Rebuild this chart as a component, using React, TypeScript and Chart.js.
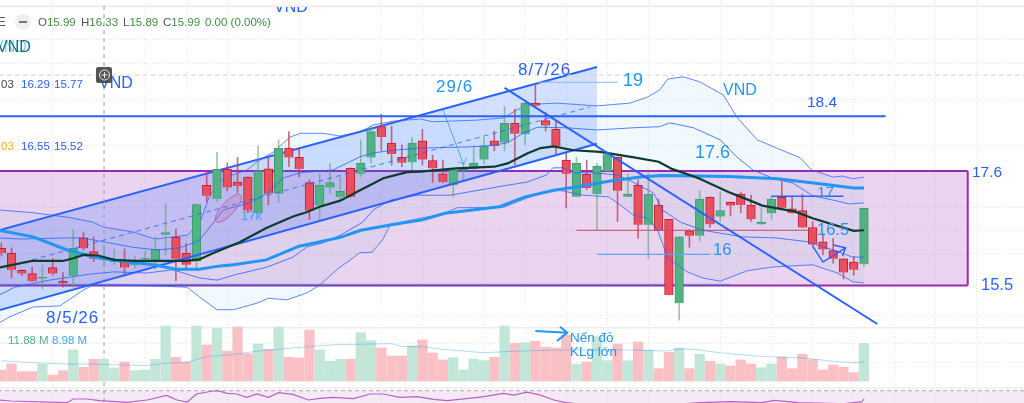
import React, { useEffect, useRef } from "react";
import { Chart, registerables } from "chart.js";

Chart.register(...registerables);

// ---- Candles (index = bar number) ----
const opens = [16.17,16.08,15.77,15.71,15.62,15.82,15.57,15.67,16.36,16.11,15.98,15.92,15.92,15.86,15.97,15.94,16.42,16.37,16.08,15.93,17.32,17.07,17.61,17.38,17.47,16.81,17.62,17.17,18.00,17.83,17.37,16.95,17.28,17.11,17.63,17.53,17.83,18.39,18.09,17.83,17.74,18.13,17.77,17.53,17.32,17.59,17.62,17.79,18.13,18.10,18.45,18.25,18.82,18.50,18.34,17.78,17.11,17.52,17.16,17.58,17.83,17.11,17.32,16.60,16.96,16.70,15.17,16.49,16.40,17.10,16.75,17.01,17.16,16.96,16.61,16.81,17.10,16.89,16.86,16.55,16.29,16.13,15.98,15.92,15.88];
const highs = [16.27,16.18,15.78,15.83,15.87,15.98,15.73,16.52,16.46,16.38,16.23,16.15,16.16,16.03,16.12,16.38,16.98,16.52,16.26,16.98,17.55,17.92,17.73,17.83,17.48,18.04,17.83,18.15,18.30,18.01,17.42,17.53,17.72,17.49,17.64,18.15,18.40,18.62,18.40,18.06,18.19,18.34,17.87,17.78,17.61,17.73,18.04,18.19,18.31,18.76,18.71,18.83,19.17,18.65,18.48,17.93,17.83,17.78,17.72,17.93,17.84,17.53,17.42,17.54,17.07,16.70,16.38,16.51,17.22,17.11,17.20,17.02,17.20,17.14,16.91,17.13,17.39,17.10,17.16,16.66,16.44,16.35,15.98,16.02,16.90];
const lows = [16.03,15.63,15.67,15.56,15.43,15.68,15.46,15.46,16.14,15.93,15.83,15.87,15.68,15.81,15.87,15.78,16.05,15.58,15.79,15.81,17.02,17.02,17.22,17.18,16.82,16.80,16.96,17.00,17.66,17.48,16.70,16.69,17.17,17.07,17.10,17.48,17.73,17.95,17.69,17.66,17.60,17.69,17.37,17.37,17.11,17.39,17.60,17.72,17.95,17.95,17.69,18.06,18.75,18.31,17.89,16.91,17.11,17.24,16.51,17.57,16.66,17.11,16.35,15.99,16.49,15.32,14.86,16.19,16.30,16.55,16.66,16.76,16.82,16.66,16.60,16.70,16.89,16.81,16.55,16.20,16.05,15.90,15.61,15.68,15.84];
const closes = [16.08,15.78,15.71,15.57,15.64,15.71,15.53,16.17,16.17,15.98,16.00,15.94,15.82,15.91,15.99,16.15,16.46,15.98,15.87,16.97,17.13,17.61,17.28,17.31,16.86,17.58,17.17,18.00,17.83,17.62,16.86,17.32,17.37,17.21,17.11,17.72,18.30,18.20,17.89,17.73,18.09,17.79,17.63,17.38,17.60,17.61,17.72,18.04,18.04,18.45,18.26,18.82,18.77,18.41,18.04,17.53,17.72,17.27,17.67,17.88,17.22,17.16,16.60,17.16,16.49,15.32,16.38,16.40,17.07,16.61,16.86,16.95,16.96,16.70,16.65,17.07,16.91,16.81,16.55,16.24,16.15,15.98,15.73,15.78,16.90];
const volumes = [7.75,8.68,7.49,7.49,8.62,6.97,7.64,10.85,8.16,9.40,9.40,8.06,8.99,7.64,7.75,9.40,14.57,9.71,8.99,14.57,11.62,14.21,10.69,14.41,10.28,11.78,10.95,14.41,9.71,9.61,13.95,10.85,9.09,9.40,9.40,13.53,12.29,11.16,9.92,9.92,11.47,12.40,10.38,9.30,9.66,7.75,9.45,9.19,9.71,14.57,11.88,11.98,12.19,11.31,11.16,13.17,8.62,8.99,12.91,9.19,11.78,9.19,12.09,10.85,7.95,10.48,11.16,7.95,10.17,9.09,8.68,8.37,9.30,8.68,8.11,8.68,9.76,7.95,10.17,9.35,7.75,8.52,8.16,7.33,11.88];
const volumeFloor = 6.04;

type P = [number, number];
// ---- Indicators as [bar, value] ----
const volumeMA: P[] = [[0,9.19],[3,8.88],[6.5,8.68],[10,8.62],[14,8.42],[16,8.78],[18,8.93],[20,9.81],[23,10.23],[25,10.69],[28,11.10],[30,11.36],[32.5,11.67],[36,11.78],[38,11.83],[39,11.41],[41,11.36],[43,10.95],[47,10.43],[50.5,10.69],[55,10.85],[61,10.85],[64.7,10.69],[66,11.0],[67.7,10.9],[70,10.43],[72.6,10.02],[75.3,9.76],[78.2,9.6],[81,9.09],[83,8.88],[84,8.98]];
const basis: P[] = [[-0.2,15.82],[3,15.94],[6,15.94],[7,15.99],[8,16.05],[9.4,16.04],[11,15.96],[13,15.94],[15,15.94],[18,15.94],[19.3,15.97],[20.6,16.08],[23.2,16.28],[25.8,16.54],[28.4,16.75],[29.7,16.83],[31,16.93],[33,17.04],[34.6,17.20],[37.2,17.45],[39.5,17.56],[40.8,17.57],[44.3,17.63],[48,17.66],[49.3,17.72],[51.2,17.90],[52.5,18.00],[53.8,18.03],[55.7,17.96],[58.3,17.93],[61.6,17.83],[64,17.75],[65.3,17.62],[67.9,17.45],[70.8,17.20],[72.8,17.05],[74.1,16.95],[77.3,16.84],[79,16.72],[83,16.49],[84,16.50]];
const slowMA: P[] = [[-0.2,16.50],[3.1,16.38],[6.4,16.14],[9.6,15.99],[12,15.93],[14.8,15.87],[17,15.79],[19.3,15.79],[21.3,15.85],[22.6,15.87],[25.8,15.96],[29,16.21],[33,16.37],[35,16.50],[38,16.60],[41,16.69],[43.2,16.81],[48.5,16.93],[51,17.11],[53.8,17.23],[55.7,17.28],[59,17.39],[62.2,17.47],[64.3,17.50],[67.5,17.49],[70.8,17.48],[75.6,17.44],[80.5,17.33],[83,17.27],[84,17.27]];
const outerUpper: P[] = [[-0.2,16.87],[3.1,16.82],[6.4,16.74],[8.9,16.65],[9.9,16.56],[12.8,16.47],[15,16.34],[18.1,16.41],[19.3,16.63],[20.3,17.14],[21.6,17.45],[23.9,17.60],[24.9,17.75],[26.5,17.93],[28.1,18.20],[29.1,18.27],[31.3,18.27],[33,18.22],[34.9,18.29],[36.2,18.42],[38.1,18.49],[40.8,18.53],[42,18.48],[46.3,18.51],[48.9,18.55],[50.2,18.70],[51.8,18.80],[54.1,18.82],[58,18.77],[61.2,18.82],[62.9,18.93],[64.1,19.06],[64.9,19.26],[66.4,19.30],[68,19.21],[70.3,18.97],[71.6,18.57],[73.6,18.15],[75.5,18.00],[77.8,17.82],[78.9,17.60],[81,17.47],[81.9,17.49],[82.9,17.44],[84,17.47]];
const innerUpper: P[] = [[-0.2,16.36],[1.8,16.34],[6.4,16.36],[7.9,16.36],[9.9,16.29],[12.8,16.19],[15.2,16.14],[17.4,16.18],[18.7,16.27],[19.3,16.32],[20.6,16.63],[21.6,16.87],[24.2,17.00],[25.9,17.18],[27.4,17.45],[29.1,17.55],[32.3,17.60],[34.9,17.84],[36.2,17.91],[38.1,17.96],[40.8,18.00],[45.3,18.02],[47.3,18.04],[49.2,18.09],[50.8,18.27],[52.2,18.38],[55.1,18.37],[58,18.33],[61.5,18.37],[64.1,18.39],[65.1,18.46],[67.4,18.37],[70,18.15],[71.6,17.84],[73.2,17.60],[75.1,17.45],[77.1,17.36],[79,17.13],[81,17.05],[82.6,16.98],[84,17.00]];
const innerLower: P[] = [[-0.2,15.32],[1.3,15.46],[4.7,15.59],[8.6,15.70],[10.9,15.74],[14.2,15.72],[16.7,15.78],[19.3,15.63],[21,15.59],[22.6,15.68],[25.9,15.83],[28.4,16.01],[29.8,16.20],[31.3,16.27],[33,16.41],[35.2,16.65],[36.2,16.87],[37.9,17.05],[40.5,17.14],[43.7,17.14],[48.9,17.31],[51.2,17.38],[53.1,17.51],[53.7,17.64],[54.7,17.64],[55.7,17.55],[57.6,17.55],[60,17.51],[61.5,17.38],[63.5,17.18],[64.4,16.87],[66.1,16.65],[68.3,16.50],[72.2,16.38],[75.5,16.36],[78.5,16.29],[81,16.14],[82.9,16.01],[84,16.01]];
const outerLower: P[] = [[-0.2,14.81],[0.8,14.92],[3.1,15.10],[5.7,15.12],[8,15.41],[8.9,15.50],[11.6,15.50],[15.5,15.48],[18.1,15.46],[19.3,15.28],[21,15.05],[22.6,15.05],[24.9,15.17],[26,15.26],[27.8,15.23],[29.8,15.36],[31,15.50],[32.3,15.72],[33,15.83],[34,15.96],[34.9,16.09],[36.1,16.10],[37.1,16.32],[37.9,16.61],[43,16.80],[44.4,16.91],[48.9,16.92],[51.2,17.09],[53.1,17.20],[54.1,17.24],[56.6,17.14],[59.1,17.11],[60.3,16.96],[61.5,16.78],[62.9,16.72],[63.9,16.50],[64.9,15.99],[66.8,15.74],[68.3,15.63],[70,15.57],[72.6,15.76],[75.1,15.83],[79,15.87],[81.4,15.72],[82.9,15.56],[84,15.54]];
const rsi: P[] = [[-0.2,51.4],[0.9,49.4],[6.4,46],[7,53.4],[8.3,53.4],[9.6,50],[12.2,46.7],[14.2,51.4],[16.1,60.7],[17.1,51.4],[18.1,47.4],[19,63.4],[20.6,69.4],[21.1,70],[22,64.7],[22.9,63.4],[23.9,56.7],[24.9,63.4],[26,56.7],[27,66],[28.4,62.7],[29.9,51.4],[31,54.7],[32.3,56.7],[34.3,54],[35.9,63.4],[37.2,63.4],[38.8,56.7],[40.5,58],[42.1,52.7],[43.4,50],[45.3,54],[47,58],[48.9,64.6],[49.9,61.2],[51.2,67.2],[52.5,61.2],[53.8,51.4],[55,46],[58,40],[62,38],[68,46],[71,48],[74,46],[75.3,50.8],[77.6,46],[82,44],[83.8,48],[84,53.4]];

// ---- Drawings on the price pane ----
const channelUpper: P[] = [[-1,16.46],[58,19.48]];
const channelLower: P[] = [[-1,15.00],[58,18.08]];
const channelMiddle: P[] = [[3,15.96],[57.3,18.75]];
const downTrend: P[] = [[49,19.10],[85.3,14.79]];
const resistance184: P[] = [[-1,18.58],[86.1,18.58]];
const zoneTopPrice = 17.58;
const zoneBottomPrice = 15.49;
const zoneEndBar = 94.1;
const level165: P[] = [[56,16.50],[78.7,16.50]];
const level16: P[] = [[58,16.06],[69,16.06]];
const level19: P[] = [[52.2,19.20],[60,19.20]];
const level17: P[] = [[75,17.12],[82,17.12]];
const zoneBottomGlow: P[] = [[-1,15.51],[71,15.51]];
const arrow296: P[] = [[43,18.70],[45,17.71]];
const arrow296Head: P[] = [[44.5,17.75],[45,17.71],[45.3,17.82]];
const arrowVol: P[] = [[52,14.66],[55.1,14.63]];
const arrowVolHead: P[] = [[54.4,14.74],[55.1,14.63],[54.1,14.48]];
const zigzag: P[] = [[79,16.21],[80,15.92],[82.2,16.18]];
const zigzagHead: P[] = [[81,16.23],[82.2,16.18],[81.9,16.03]];
const crosshairBar = 10;
const crosshairPrice = 19.33;

const priceGrid = [19.99, 19.55, 18.88, 18.04, 16.92, 16.49, 16.07, 14.95, 14.44, 14.08];
const barGrid = [5, 14, 18, 22, 29, 37, 41, 47, 51, 55, 59, 63, 70, 75, 79, 83, 87, 91, 95];

const legendLabels = ["O", "H", "L", "C"];
const legendValues = ["15.99", "16.33", "15.89", "15.99"];
const legendChange = "0.00 (0.00%)";
const BLUE = "#2962ff";
const SKY = "#2196f3";

const pts = (a: P[]) => a.map(([x, y]) => ({ x, y }));

const notes: any[] = [
  ["E", -3, 26, "13px", "#555"],
  ["VND", -7, 52, "16px", "#8fd0e0"],
  ["VND", -3, 52, "16px", "#12727c"],
  ["16.03", -15, 88, "11.5px", "#444"],
  ["16.29", 21, 88, "11.5px", BLUE],
  ["15.77", 54, 88, "11.5px", BLUE],
  ["VND", 99, 88, "16px", BLUE],
  ["16.03", -15, 150, "11.5px", "#f9a825"],
  ["16.55", 21, 150, "11.5px", BLUE],
  ["15.52", 54, 150, "11.5px", BLUE],
  ["29/6", 436, 92, "17px", SKY, 1],
  ["8/7/26", 518, 75, "17px", BLUE, 1],
  ["19", 623, 86, "18px", SKY],
  ["VND", 723, 95, "16px", SKY],
  ["18.4", 807, 107, "15.5px", BLUE],
  ["17.6", 695, 158, "18px", SKY],
  ["17.6", 972, 177, "15.5px", BLUE],
  ["17", 817, 197, "15.5px", SKY],
  ["16.5", 817, 235, "16.5px", SKY],
  ["16", 713, 255, "16.5px", SKY],
  ["15.5", 981, 290, "16.5px", BLUE],
  ["8/5/26", 46, 323, "17px", BLUE, 1],
  ["17k", 241, 220, "13px", "rgba(33,150,243,.75)"],
  ["Nến đỏ", 570, 342, "13.5px", SKY],
  ["KLg lớn", 570, 356, "13.5px", SKY],
  ["11.88 M", 8, 344, "11.5px", "#55b08a"],
  ["8.98 M", 52, 344, "11.5px", "#42a5f5"],
];

const annotationPlugin = {
  id: "annotations",
  afterDatasetsDraw(chart: any) {
    const ctx = chart.ctx;
    const sx = chart.scales.x;
    const sy = chart.scales.y;
    ctx.save();
    // ellipse around bars 21-23
    ctx.beginPath();
    ctx.ellipse(sx.getPixelForValue(22.1), sy.getPixelForValue(16.9), 18, 6.5, -0.83, 0, Math.PI * 2);
    ctx.fillStyle = "rgba(190,80,170,.22)";
    ctx.strokeStyle = "#c25fa6";
    ctx.lineWidth = 1;
    ctx.fill();
    ctx.stroke();

    ctx.textBaseline = "alphabetic";
    ctx.textAlign = "left";
    const F = '"Liberation Sans", Arial, sans-serif';
    // clipped text at the top
    ctx.save();
    ctx.beginPath();
    ctx.rect(0, 7, 1024, 30);
    ctx.clip();
    ctx.font = "16px " + F;
    ctx.fillStyle = BLUE;
    ctx.fillText("VND", 274, 12);
    ctx.restore();

    for (const n of notes) {
      ctx.font = n[3] + " " + F;
      ctx.fillStyle = n[4];
      ctx.letterSpacing = (n[5] || 0) + "px";
      ctx.fillText(n[0], n[1], n[2]);
    }
    ctx.letterSpacing = "0px";

    // OHLC legend
    ctx.font = "11.5px " + F;
    const starts = [38, 81, 123, 163];
    legendLabels.forEach((l, i) => {
      ctx.fillStyle = "#555";
      ctx.fillText(l, starts[i], 26);
      const w = ctx.measureText(l).width;
      ctx.fillStyle = "#3f8f3f";
      ctx.fillText(legendValues[i], starts[i] + w, 26);
    });
    ctx.fillStyle = "#3f8f3f";
    ctx.fillText(legendChange, 205, 26);

    // collapse button
    ctx.beginPath();
    ctx.arc(23, 22, 8, 0, Math.PI * 2);
    ctx.fillStyle = "#efefef";
    ctx.fill();
    ctx.fillStyle = "#777";
    ctx.fillRect(19, 21, 8, 2);

    // cursor zoom icon
    ctx.beginPath();
    ctx.roundRect(96, 67, 16, 16, 2);
    ctx.fillStyle = "rgba(70,70,70,.92)";
    ctx.fill();
    ctx.beginPath();
    ctx.arc(104.5, 75, 5, 0, Math.PI * 2);
    ctx.moveTo(104.5, 72);
    ctx.lineTo(104.5, 78);
    ctx.moveTo(101.5, 75);
    ctx.lineTo(107.5, 75);
    ctx.strokeStyle = "#e8e8e8";
    ctx.lineWidth = 1;
    ctx.stroke();
    ctx.restore();
  },
};

export default function App() {
  const ref = useRef<HTMLCanvasElement>(null);
  useEffect(() => {
    const ds: any[] = [];
    const add = (d: any) => {
      ds.push({
        type: "line",
        pointRadius: 0,
        tension: 0,
        fill: false,
        borderWidth: 1,
        xAxisID: "x",
        yAxisID: "y",
        ...d,
      });
      return ds.length - 1;
    };
    const x0 = -1;
    const x1 = 101;
    // purple zone
    const zoneBottom = add({ data: pts([[x0, zoneBottomPrice], [zoneEndBar, zoneBottomPrice]]), borderColor: "#9c27b0", borderWidth: 2, order: 60 });
    add({
      data: pts([[x0, zoneTopPrice], [zoneEndBar, zoneTopPrice]]),
      borderColor: "#9c27b0",
      borderWidth: 2,
      order: 100,
      fill: { target: zoneBottom, above: "rgba(156,39,176,.2)", below: "rgba(156,39,176,.2)" },
    });
    add({ data: pts([[zoneEndBar, zoneTopPrice], [zoneEndBar, zoneBottomPrice]]), borderColor: "#9c27b0", borderWidth: 2, order: 60 });
    add({ data: pts(zoneBottomGlow), borderColor: "rgba(33,150,243,.55)", borderWidth: 1.5, order: 59 });

    // bollinger bands
    const ol = add({ data: pts(outerLower), borderColor: "rgba(41,98,255,.75)", order: 20 });
    add({
      data: pts(outerUpper),
      borderColor: "rgba(41,98,255,.75)",
      order: 90,
      fill: { target: ol, above: "rgba(33,150,243,.06)", below: "rgba(33,150,243,.06)" },
    });
    add({ data: pts(innerUpper), borderColor: "rgba(41,98,255,.8)", order: 20 });
    add({ data: pts(innerLower), borderColor: "rgba(41,98,255,.8)", order: 20 });

    // channel
    const cl = add({ data: pts(channelLower), borderColor: BLUE, borderWidth: 2, order: 15 });
    add({
      data: pts(channelUpper),
      borderColor: BLUE,
      borderWidth: 2,
      order: 85,
      fill: { target: cl, above: "rgba(41,98,255,.2)", below: "rgba(41,98,255,.2)" },
    });
    add({ data: pts(channelMiddle), borderColor: "rgba(41,98,255,.8)", borderDash: [5, 4], order: 15 });

    // frame lines
    add({ data: pts([[x0, 20.59], [x1, 20.59]]), borderColor: "#ececec", borderWidth: 2, order: 95 });
    add({ data: pts([[crosshairBar, 20.59], [crosshairBar, 13.3]]), borderColor: "#9b9b9b", borderDash: [4, 4], order: 80 });
    add({ data: pts([[x0, crosshairPrice], [x1, crosshairPrice]]), borderColor: "#d6d6d6", borderWidth: 1.2, borderDash: [4, 4], order: 80 });
    add({ data: pts([[x0, 14.72], [x1, 14.72]]), borderColor: "#ececec", borderWidth: 1.5, order: 95 });
    add({ data: pts([[x0, 13.62], [x1, 13.62]]), borderColor: "#ececec", borderWidth: 1.5, order: 95 });

    // RSI pane
    const rsiFloor = add({ data: pts([[x0, 30], [x1, 30]]), borderWidth: 0, yAxisID: "yRsi", order: 96 });
    add({
      data: pts([[x0, 70], [x1, 70]]),
      yAxisID: "yRsi",
      borderColor: "#a8a8a8",
      borderDash: [4, 3],
      order: 94,
      fill: { target: rsiFloor, above: "rgba(156,39,176,.1)", below: "rgba(156,39,176,.1)" },
    });
    add({ data: pts(rsi), yAxisID: "yRsi", borderColor: "#b763c2", borderWidth: 1.2, order: 9 });

    // volume
    const rising = closes.map((c, i) => c >= opens[i]);
    ds.push({
      type: "bar",
      grouped: false,
      xAxisID: "x",
      yAxisID: "yVol",
      data: volumes.map((v, i) => ({ x: i, y: [volumeFloor, v] })),
      backgroundColor: rising.map((r) => (r ? "#c2e6d7" : "#f9c0c5")),
      barThickness: 9.6,
      order: 50,
    });
    add({ data: pts(volumeMA), yAxisID: "yVol", borderColor: "rgba(33,150,243,.35)", order: 48 });

    // candles
    ds.push({
      type: "bar",
      grouped: false,
      xAxisID: "x",
      yAxisID: "y",
      data: highs.map((h, i) => ({ x: i, y: [lows[i], h] })),
      backgroundColor: rising.map((r) => (r ? "rgba(95,160,115,.6)" : "rgba(190,60,85,.75)")),
      barThickness: 1,
      order: 40,
    });
    ds.push({
      type: "bar",
      grouped: false,
      xAxisID: "x",
      yAxisID: "y",
      data: opens.map((o, i) => ({ x: i, y: [o, closes[i]] })),
      backgroundColor: rising.map((r) => (r ? "#50b285" : "#e8505f")),
      borderColor: rising.map((r) => (r ? "#3d9a70" : "#c21f38")),
      borderWidth: 1,
      barThickness: 8.6,
      order: 35,
    });

    // moving averages over the candles
    add({ data: pts(slowMA), borderColor: "#2196f3", borderWidth: 3, order: 12 });
    add({ data: pts(basis), borderColor: "#0e3b2c", borderWidth: 2.2, order: 11 });

    // drawings
    add({ data: pts(downTrend), borderColor: BLUE, borderWidth: 2, order: 5 });
    add({ data: pts(resistance184), borderColor: BLUE, borderWidth: 2, order: 5 });
    add({ data: pts(level165), borderColor: "#c84a5e", borderWidth: 1, order: 30 });
    add({ data: pts(level16), borderColor: "#64a8f4", borderWidth: 1.2, order: 30 });
    add({ data: pts(level19), borderColor: "#8db8f2", borderWidth: 1, order: 30 });
    add({ data: pts(level17), borderColor: BLUE, borderWidth: 1.6, order: 5 });
    add({ data: pts(arrow296), borderColor: "rgba(33,150,243,.75)", order: 5 });
    add({ data: pts(arrow296Head), borderColor: "rgba(33,150,243,.75)", order: 5 });
    add({ data: pts(arrowVol), borderColor: SKY, borderWidth: 2, order: 5 });
    add({ data: pts(arrowVolHead), borderColor: SKY, borderWidth: 2, order: 5 });
    add({ data: pts(zigzag), borderColor: BLUE, borderWidth: 1.5, order: 5 });
    add({ data: pts(zigzagHead), borderColor: BLUE, borderWidth: 1.5, order: 5 });

    const hidden = { display: false };
    const chart = new Chart(ref.current as HTMLCanvasElement, {
      type: "bar",
      data: { datasets: ds },
      plugins: [annotationPlugin],
      options: {
        responsive: false,
        devicePixelRatio: 1,
        animation: false,
        events: [],
        layout: { padding: 0 },
        plugins: { legend: hidden, title: hidden, tooltip: { enabled: false } },
        scales: {
          x: {
            type: "linear",
            min: -0.13,
            max: 99.58,
            offset: false,
            afterBuildTicks: (a: any) => {
              a.ticks = barGrid.map((value) => ({ value }));
            },
            grid: { offset: false, color: "#e6e6ea", drawTicks: false, lineWidth: 1 },
            border: { display: false, dash: [1, 2] },
            ticks: { display: false },
          },
          y: {
            type: "linear",
            min: 13.348,
            max: 20.702,
            afterBuildTicks: (a: any) => {
              a.ticks = priceGrid.map((value) => ({ value }));
            },
            grid: { color: "#e6e6ea", drawTicks: false },
            border: { display: false, dash: [1, 2] },
            ticks: { display: false },
          },
          yVol: { type: "linear", display: false, min: 2.63, max: 65.11 },
          yRsi: { type: "linear", display: false, min: 45.4, max: 851.4 },
        },
      },
    } as any);
    return () => chart.destroy();
  }, []);
  return (
    <div style={{ position: "absolute", left: 0, top: 0, width: 1024, height: 403, background: "#fff" }}>
      <canvas ref={ref} width={1024} height={403} style={{ display: "block" }} />
    </div>
  );
}
